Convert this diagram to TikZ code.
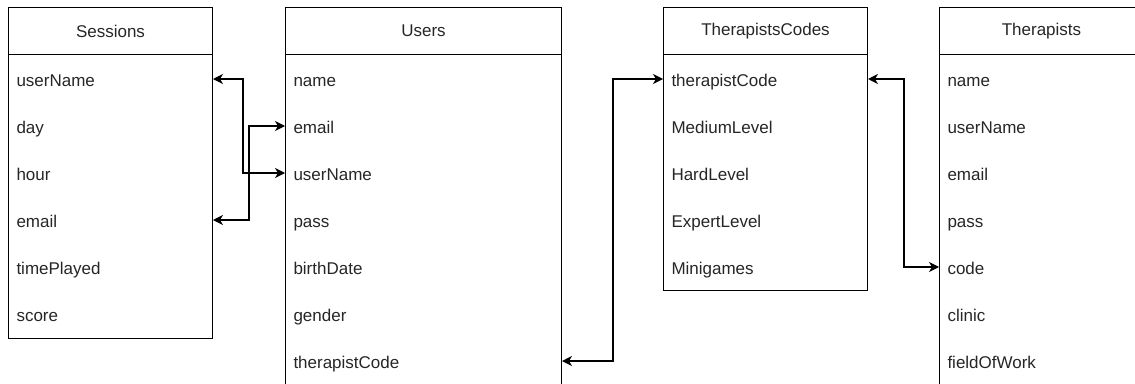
\documentclass[tikz,border=0pt]{standalone}
\usepackage{fontspec}
\setmainfont{Liberation Sans}
\usetikzlibrary{arrows.meta}

\tikzset{
  tblhead/.style={draw, minimum height=47pt, inner sep=0pt, anchor=north west},
  tblfield/.style={anchor=west, minimum height=47pt, inner xsep=8pt, inner ysep=0pt, align=left,
    text height=14pt, text depth=0pt},
  link/.style={{Stealth[length=10pt,width=10pt,inset=3pt]}-{Stealth[length=10pt,width=10pt,inset=3pt]}, line width=1.2pt},
}

\begin{document}
\begin{tikzpicture}[x=1pt,y=-1pt,line width=1pt,font=\fontsize{17}{20}\selectfont,text=black!85]
  \useasboundingbox (0,0) rectangle (1135,383);
  \clip (0,0) rectangle (1135,383);
%%
  % Table: Sessions
  \node[tblhead, minimum width=204pt] (sess) at (8,7) {Sessions};
  \draw (8,54) rectangle (212,338);
  \foreach \f [count=\i] in {userName,day,hour,email,timePlayed,score}
    \node[tblfield, text width=188pt] (sess-\f) at (8,{32+47*\i}) {\f};
  % Table: Users
  \node[tblhead, minimum width=276pt] (users) at (285,7) {Users};
  \draw (285,54) rectangle (561,400);
  \foreach \f [count=\i] in {name,email,userName,pass,birthDate,gender,therapistCode}
    \node[tblfield, text width=260pt] (users-\f) at (285,{32+47*\i}) {\f};
  % Table: TherapistsCodes
  \node[tblhead, minimum width=204pt] (codes) at (663,7) {TherapistsCodes};
  \draw (663,54) rectangle (867,290);
  \foreach \f [count=\i] in {therapistCode,MediumLevel,HardLevel,ExpertLevel,Minigames}
    \node[tblfield, text width=188pt] (codes-\f) at (663,{32+47*\i}) {\f};
  % Table: Therapists
  \node[tblhead, minimum width=204pt] (ther) at (939,7) {Therapists};
  \draw (939,54) rectangle (1143,400);
  \foreach \f [count=\i] in {name,userName,email,pass,code,clinic,fieldOfWork}
    \node[tblfield, text width=188pt] (ther-\f) at (939,{32+47*\i}) {\f};
%%
  % Edge: sess-userName <-> users-userName
  \draw[link] (sess-userName.east) -- ++(30,0) |- (users-userName.west);
  % Edge: sess-email <-> users-email
  \draw[link] (sess-email.east) -- ++(36,0) |- (users-email.west);
  % Edge: users-therapistCode <-> codes-therapistCode
  \draw[link] (users-therapistCode.east) -- ++(51,0) |- (codes-therapistCode.west);
  % Edge: codes-therapistCode <-> ther-code
  \draw[link] (codes-therapistCode.east) -- ++(36,0) |- (ther-code.west);
%
\end{tikzpicture}
\end{document}
